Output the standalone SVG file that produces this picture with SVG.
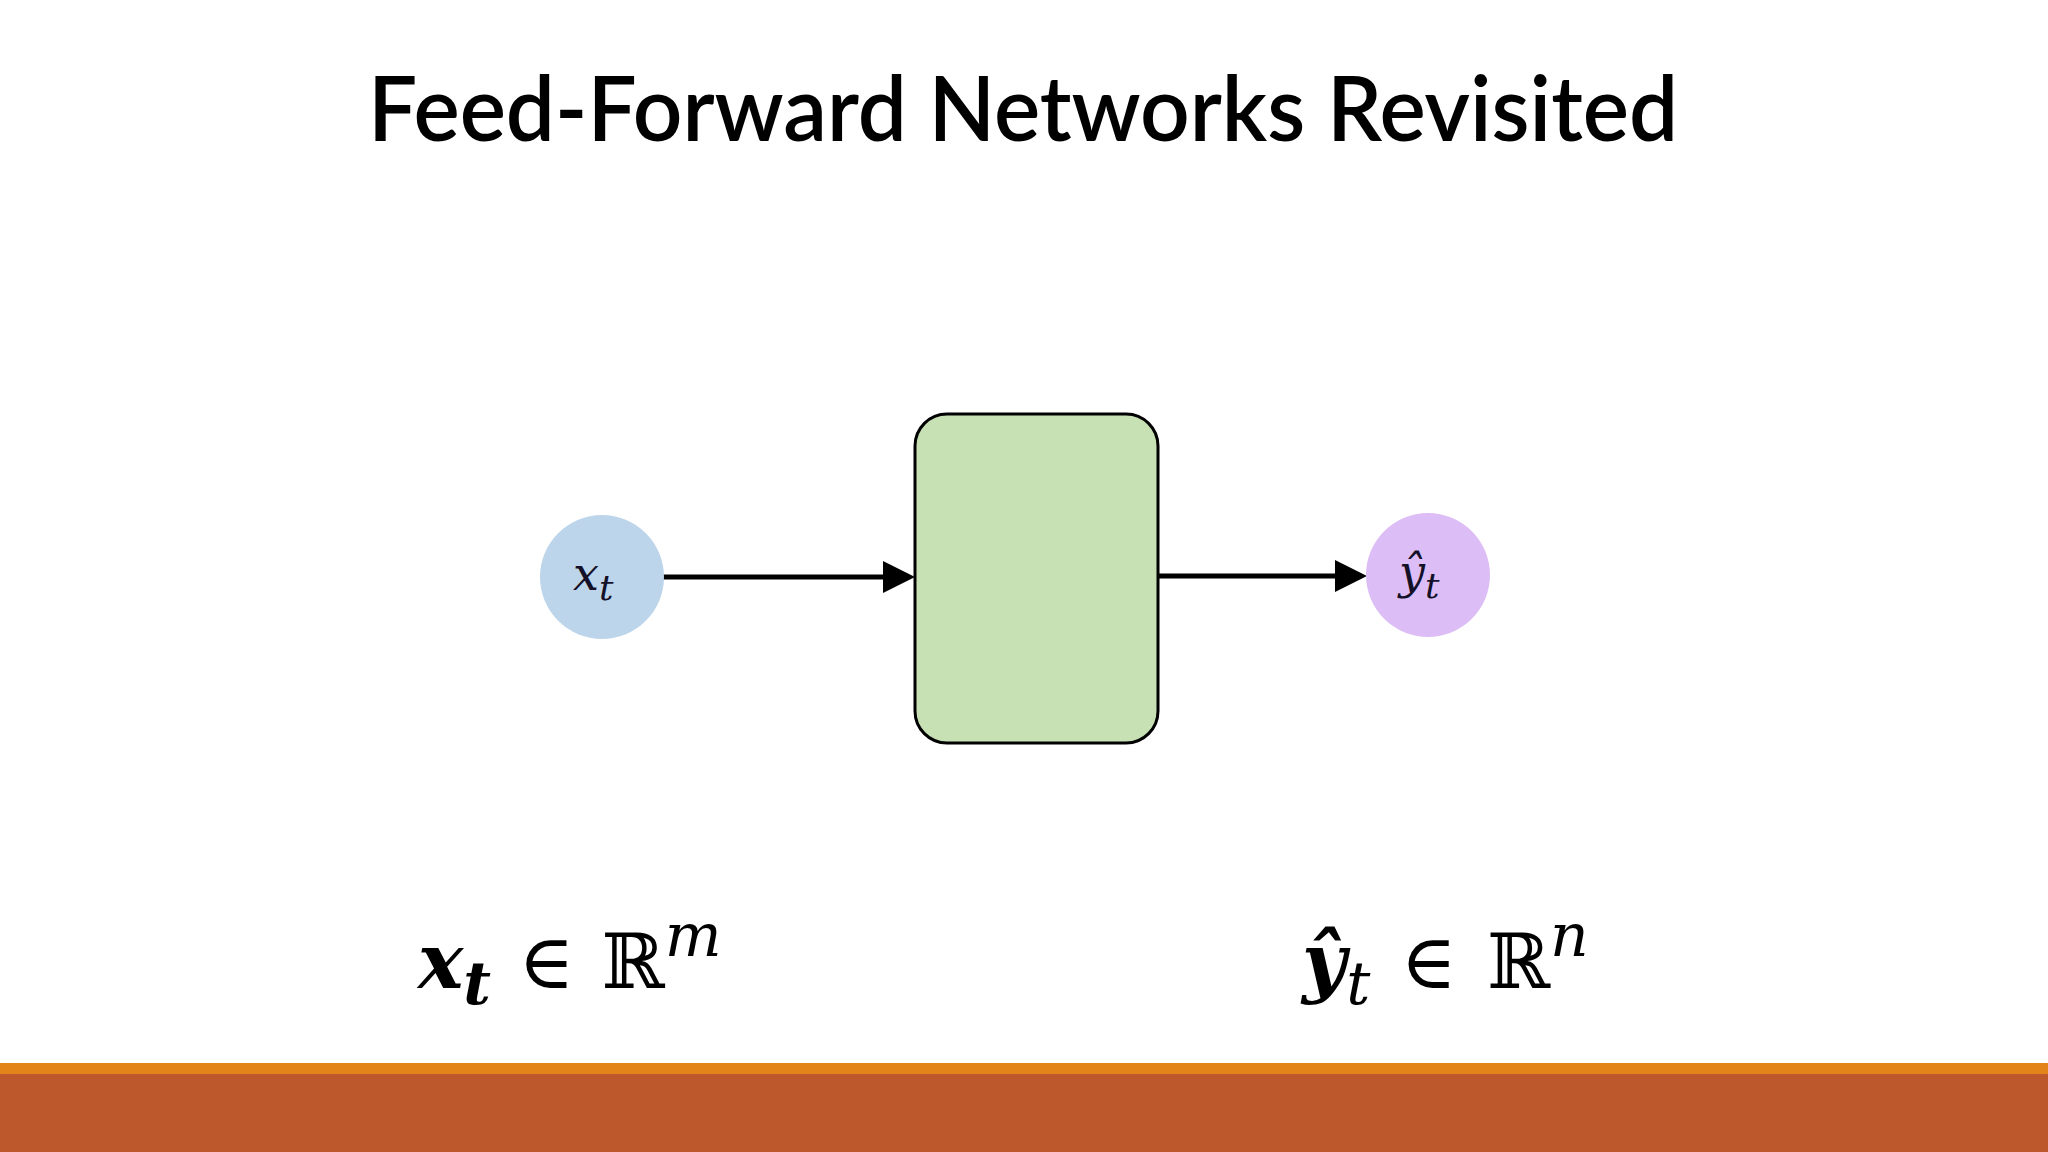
<svg xmlns="http://www.w3.org/2000/svg" width="2048" height="1152" viewBox="0 0 2048 1152">
<style>
.title{font-family:Lato,"Open Sans",sans-serif;font-size:90px;font-weight:600;fill:#000}
.math{font-family:"DejaVu Serif","Liberation Serif",serif;fill:#000}
.node{font-family:"DejaVu Serif","Liberation Serif",serif;font-style:italic;fill:#141028}
.conn{stroke:#000;stroke-width:5;fill:none}
</style>
<rect width="2048" height="1152" fill="#fff"/>
<text class="title" x="1023" y="141" text-anchor="middle" textLength="1310" lengthAdjust="spacingAndGlyphs">Feed-Forward Networks Revisited</text>
<g id="connectors">
<line class="conn" x1="663" y1="577" x2="884" y2="577"/>
<path d="M883,561 L915,577 L883,593 Z" fill="#000"/>
<line class="conn" x1="1158" y1="576" x2="1336" y2="576"/>
<path d="M1335,560 L1367,576 L1335,592 Z" fill="#000"/>
</g>
<g id="node-x">
<circle cx="602" cy="577" r="62" fill="#bcd5ea"/>
<text class="node" x="573" y="590" font-size="46">x<tspan font-size="36" dy="10">t</tspan></text>
</g>
<g id="node-f">
<rect x="915" y="414" width="243" height="329" rx="32" fill="#c7e0b4" stroke="#000" stroke-width="3"/>
</g>
<g id="node-y">
<circle cx="1428" cy="575" r="62" fill="#dcbdf5"/>
<text class="node" x="1399" y="588" font-size="46">ŷ<tspan font-size="36" dy="10">t</tspan></text>
</g>
<g id="label-x">
<text class="math" x="418" y="988" font-size="76"><tspan font-weight="bold" font-style="italic">x</tspan><tspan font-weight="bold" font-style="italic" font-size="60" dy="16">t</tspan><tspan dy="-16" dx="3"> ∈ </tspan><tspan dx="3">ℝ</tspan><tspan font-style="italic" font-size="60" dy="-32">m</tspan></text>
</g>
<g id="label-y">
<text class="math" x="1302" y="988" font-size="76"><tspan font-weight="bold" font-style="italic">ŷ</tspan><tspan font-style="italic" font-size="60" dy="16">t</tspan><tspan dy="-16" dx="6"> ∈ </tspan><tspan dx="6">ℝ</tspan><tspan font-style="italic" font-size="60" dy="-32">n</tspan></text>
</g>
<rect x="0" y="1063" width="2048" height="11" fill="#e3841a"/>
<rect x="0" y="1074" width="2048" height="78" fill="#bd582c"/>
</svg>
